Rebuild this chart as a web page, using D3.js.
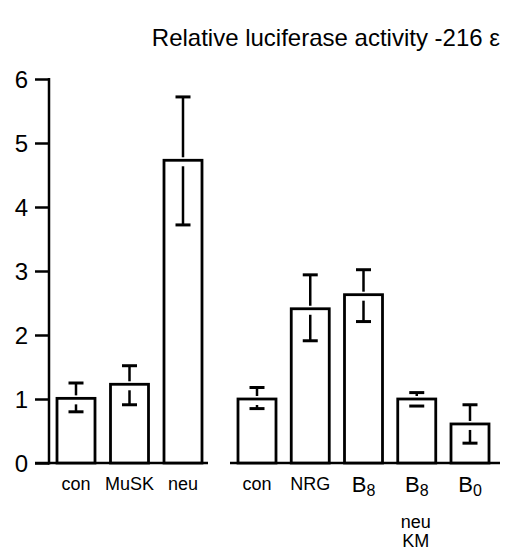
<!DOCTYPE html>
<html><head><meta charset="utf-8">
<script src="https://cdn.jsdelivr.net/npm/d3@7"></script>
<style>body{margin:0;background:#fff}svg{display:block}text{font-family:"Liberation Sans",Arial,Helvetica,sans-serif;fill:#000}</style>
</head><body><svg id="c" width="518" height="553"></svg>
<script>
// Data
const leftCategories = ["con", "MuSK", "neu"];
const leftValues = [1.01, 1.23, 4.73];
const leftErrHigh = [1.25, 1.52, 5.72];
const leftErrLow = [0.80, 0.91, 3.72];

const rightCategories = ["con", "NRG", "B8", "B8 neu KM", "B0"];
const rightMain = ["con", "NRG", "B", "B", "B"];
const rightSub = ["", "", "8", "8", "0"];
const rightExtra = [[], [], [], ["neu", "KM"], []];
const rightValues = [1.00, 2.41, 2.63, 1.00, 0.61];
const rightErrHigh = [1.18, 2.94, 3.02, 1.10, 0.91];
const rightErrLow = [0.85, 1.91, 2.21, 0.89, 0.31];

const yTicks = [0, 1, 2, 3, 4, 5, 6];
const title = "Relative luciferase activity -216 \u03b5";

const svg = d3.select("#c");
const y = d3.scaleLinear().domain([0, 6]).range([463, 79]);
const xL = d3.scalePoint().domain(leftCategories).range([76, 183]);
const xR = d3.scalePoint().domain(rightCategories).range([257, 470]);
const barW = 38;
const capW = 15;

svg.append("text").attr("x", 500).attr("y", 46).attr("text-anchor", "end")
  .style("font-size", "24px").text(title);

// y axis
const ax = svg.append("g").attr("transform", "translate(49,0)")
  .call(d3.axisLeft(y).tickValues(yTicks).tickSize(14).tickPadding(7).tickFormat(d3.format("d")));
ax.select(".domain").remove();
ax.selectAll(".tick line").attr("stroke", "#000").attr("stroke-width", 2.5);
ax.selectAll(".tick text").style("font-size", "24px").attr("dy", "0.36em");
svg.append("line").attr("x1", 49).attr("x2", 49).attr("y1", y(6) - 1).attr("y2", y(0) + 1.5)
  .attr("stroke", "#000").attr("stroke-width", 2.5);

// baselines
svg.append("line").attr("x1", 35).attr("x2", 208).attr("y1", y(0)).attr("y2", y(0))
  .attr("stroke", "#000").attr("stroke-width", 2.5);
svg.append("line").attr("x1", 230).attr("x2", 500).attr("y1", y(0)).attr("y2", y(0))
  .attr("stroke", "#000").attr("stroke-width", 2.5);

function drawBars(cats, vals, hi, lo, x) {
  const g = svg.append("g");
  cats.forEach((c, i) => {
    const cx = x(c);
    const top = y(vals[i]);
    g.append("rect").attr("x", cx - barW / 2).attr("y", top)
      .attr("width", barW).attr("height", y(0) - top)
      .attr("fill", "#fff").attr("stroke", "#000").attr("stroke-width", 2.8);
    g.append("line").attr("x1", cx).attr("x2", cx).attr("y1", y(hi[i])).attr("y2", top - 3)
      .attr("stroke", "#000").attr("stroke-width", 2.5);
    g.append("line").attr("x1", cx - capW / 2).attr("x2", cx + capW / 2).attr("y1", y(hi[i])).attr("y2", y(hi[i]))
      .attr("stroke", "#000").attr("stroke-width", 3);
    g.append("line").attr("x1", cx).attr("x2", cx).attr("y1", y(lo[i])).attr("y2", Math.min(top + 6, y(lo[i])))
      .attr("stroke", "#000").attr("stroke-width", 2.5);
    g.append("line").attr("x1", cx - capW / 2).attr("x2", cx + capW / 2).attr("y1", y(lo[i])).attr("y2", y(lo[i]))
      .attr("stroke", "#000").attr("stroke-width", 3);
  });
}
drawBars(leftCategories, leftValues, leftErrHigh, leftErrLow, xL);
drawBars(rightCategories, rightValues, rightErrHigh, rightErrLow, xR);

// x labels
leftCategories.forEach(c => {
  svg.append("text").attr("x", xL(c)).attr("y", 490).attr("text-anchor", "middle")
    .style("font-size", "18px").text(c);
});
rightCategories.forEach((c, i) => {
  const t = svg.append("text").attr("x", xR(c)).attr("y", 490).attr("text-anchor", "middle");
  if (rightSub[i]) {
    t.append("tspan").style("font-size", "22px").attr("dy", "2").text(rightMain[i]);
    t.append("tspan").style("font-size", "16px").attr("dy", "4").text(rightSub[i]);
  } else {
    t.style("font-size", "18px").text(rightMain[i]);
  }
  rightExtra[i].forEach((line, k) => {
    svg.append("text").attr("x", xR(c) - 1).attr("y", 528 + k * 19).attr("text-anchor", "middle")
      .style("font-size", "18px").text(line);
  });
});
</script></body></html>
